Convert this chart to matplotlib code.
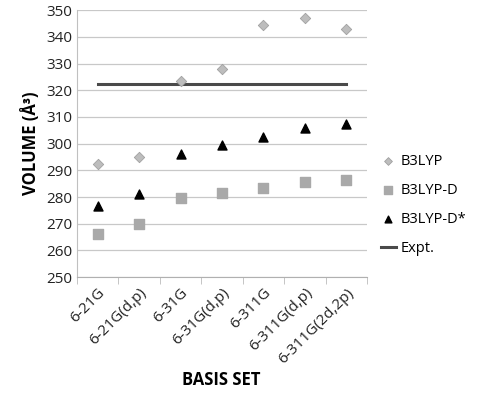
import matplotlib
matplotlib.use("Agg")
import matplotlib.pyplot as plt
import numpy as np

plt.rcParams['font.family'] = ['Open Sans', 'DejaVu Sans']

categories = ["6-21G", "6-21G(d,p)", "6-31G", "6-31G(d,p)", "6-311G", "6-311G(d,p)", "6-311G(2d,2p)"]
b3lyp = [292.5, 295.0, 323.5, 328.0, 344.5, 347.0, 343.0]
b3lyp_d = [266.0, 270.0, 279.7, 281.5, 283.5, 285.5, 286.2]
b3lyp_dstar = [276.7, 281.0, 296.0, 299.5, 302.5, 306.0, 307.2]
expt = 322.3

fig = plt.figure(figsize=(4.81, 4.04), dpi=100)
ax = fig.add_axes([0.160, 0.314, 0.603, 0.661])
x = np.arange(len(categories))

ax.scatter(x, b3lyp, marker='D', s=28, color='#bdbdbd', edgecolor='#a0a0a0', linewidths=0.6, label='B3LYP', zorder=3)
ax.scatter(x, b3lyp_d, marker='s', s=55, color='#a9a9a9', label='B3LYP-D', zorder=3)
ax.scatter(x, b3lyp_dstar, marker='^', s=42, color='black', label='B3LYP-D*', zorder=3)
ax.plot([x[0], x[-1]], [expt, expt], color='#4a4a4a', lw=2.2, label='Expt.', zorder=2)

ax.set_xlim(-0.5, len(categories) - 0.5)
ax.set_ylim(250, 350)
ax.set_yticks(np.arange(250, 351, 10))
ax.yaxis.grid(True, color='#c8c8c8', lw=0.9)
ax.set_axisbelow(True)
ax.set_xticks(x)
ax.set_xticklabels(categories, rotation=45, ha='right', rotation_mode='anchor', fontsize=11, color='#222222')
ax.tick_params(axis='x', length=0, pad=6)
ax.set_xticks(np.arange(-0.5, len(categories), 1), minor=True)
ax.tick_params(axis='x', which='minor', length=5, color='#bbbbbb', direction='out')
ax.tick_params(axis='y', length=0, labelsize=11, colors='#222222')
for s in ['top', 'right']:
    ax.spines[s].set_visible(False)
ax.spines['left'].set_color('#c0c0c0')
ax.spines['bottom'].set_color('#b0b0b0')

ax.set_ylabel('VOLUME (Å³)', fontsize=12, fontweight='bold', labelpad=4)
fig.text(0.46, 0.06, 'BASIS SET', fontsize=12, fontweight='bold', ha='center', va='center')

fig.legend(loc='center left', bbox_to_anchor=(0.78, 0.493), frameon=False, fontsize=10.5,
           handlelength=1.0, handletextpad=0.35, labelspacing=0.95, borderaxespad=0, markerscale=0.75)

fig.savefig('out.png', dpi=100)
